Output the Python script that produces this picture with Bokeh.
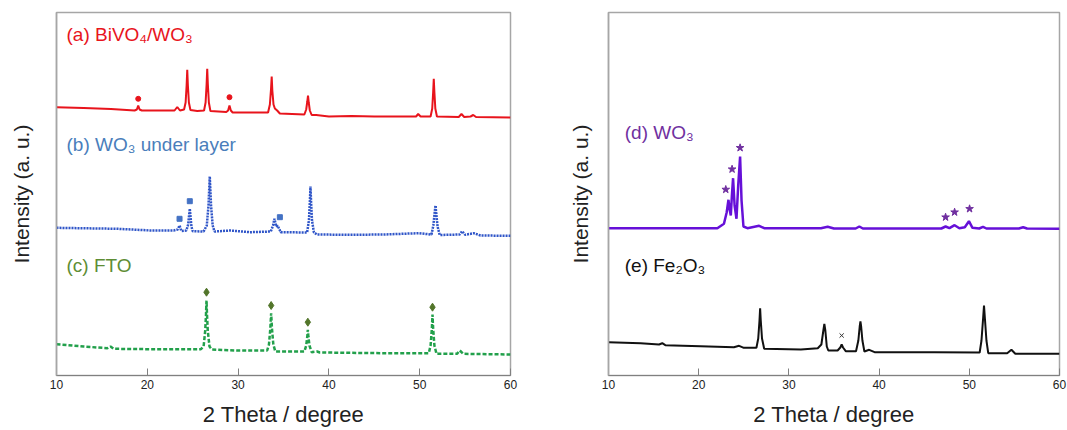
from bokeh.plotting import figure
from bokeh.models import Label, FixedTicker, Range1d
from bokeh.layouts import row
from bokeh.embed import file_html
from bokeh.resources import INLINE

# ---------------- data (2 theta in degree, intensity in arbitrary units) ----------------
TICKS = [10, 20, 30, 40, 50, 60]

# (a) BiVO4/WO3
RED_X = [10.0, 13.0, 16.0, 18.6, 18.85, 19.0, 19.15, 19.4, 21.0, 23.0, 23.3, 23.6, 24.05, 24.22, 24.33,
         24.4, 24.47, 24.58, 24.75, 25.5, 26.25, 26.42, 26.53, 26.6, 26.67, 26.78, 26.95, 28.7, 28.9,
         29.05, 29.2, 29.4, 31.0, 33.3, 33.5, 33.63, 33.7, 33.77, 33.9, 34.05, 34.3, 34.6, 37.3, 37.5,
         37.62, 37.7, 37.78, 37.9, 38.1, 38.6, 40.0, 42.5, 45.0, 49.6, 49.83, 50.1, 51.2, 51.38, 51.48,
         51.55, 51.62, 51.72, 51.9, 54.3, 54.6, 54.9, 55.6, 55.9, 56.2, 60.0]
RED_Y = [13.3, 12.5, 11.5, 10.0, 11.0, 15.0, 11.0, 10.0, 10.0, 10.0, 13.5, 10.0, 11.0, 18.0, 35.0,
         50.7, 35.0, 18.0, 10.5, 9.5, 10.0, 18.0, 36.0, 51.7, 36.0, 18.0, 9.5, 8.5, 10.0,
         15.0, 10.0, 8.0, 8.0, 8.0, 16.0, 32.0, 44.0, 30.0, 16.0, 12.0, 10.0, 7.0, 6.0, 11.0,
         19.0, 25.0, 18.0, 10.0, 5.5, 5.5, 4.0, 4.5, 4.0, 4.0, 6.5, 4.0, 4.0, 12.0, 28.0,
         41.7, 28.0, 12.0, 4.0, 3.5, 6.5, 3.5, 4.0, 5.5, 3.5, 3.0]
RED_MARK_X = [19.0, 29.05]
RED_MARK_Y = [21.7, 23.3]

# (b) WO3 under layer
BLUE_X = [10.0, 16.7, 20.4, 22.9, 23.35, 23.55, 23.75, 24.3, 24.5, 24.6, 24.68, 24.76, 24.86, 25.0,
          26.2, 26.55, 26.74, 26.82, 26.88, 26.94, 27.02, 27.2, 27.4, 29.16, 31.3, 33.6, 33.85, 34.0,
          34.2, 34.35, 34.7, 37.6, 37.8, 37.9, 37.97, 38.04, 38.14, 38.35, 38.7, 42.3, 46.05, 49.9,
          51.3, 51.5, 51.65, 51.74, 51.82, 51.97, 52.2, 54.4, 54.68, 55.0, 55.96, 56.7, 60.0]
BLUE_Y = [12.7, 11.7, 10.0, 10.0, 11.0, 15.0, 9.5, 10.0, 16.0, 25.0, 31.7, 24.0, 14.0, 9.3,
          9.0, 15.0, 35.0, 52.0, 64.0, 52.0, 35.0, 15.0, 9.0, 10.0, 8.3, 9.0, 15.0, 21.7,
          14.0, 15.0, 8.3, 8.0, 20.0, 38.0, 54.0, 38.0, 20.0, 8.0, 6.0, 5.7, 6.0, 7.3,
          6.0, 15.0, 28.0, 35.0, 27.0, 14.0, 5.5, 6.0, 9.3, 5.7, 7.3, 5.0, 4.7]
BLUE_MARK_X = [23.55, 24.68, 34.6]
BLUE_MARK_Y = [21.7, 39.3, 23.3]

# (c) FTO
GREEN_X = [10.0, 13.0, 15.6, 15.95, 16.3, 20.3, 25.9, 26.2, 26.38, 26.46, 26.52, 26.58, 26.66, 26.85,
           27.1, 29.9, 33.2, 33.4, 33.55, 33.64, 33.73, 33.88, 34.1, 37.3, 37.5, 37.62, 37.68, 37.74,
           37.86, 38.1, 38.7, 39.0, 42.3, 46.05, 51.0, 51.2, 51.34, 51.41, 51.48, 51.62, 51.85, 54.1,
           54.42, 54.8, 60.0]
GREEN_Y = [16.3, 14.0, 12.3, 14.0, 11.7, 11.3, 11.3, 14.0, 30.0, 45.0, 60.0, 45.0, 30.0, 14.0,
           11.0, 10.0, 10.0, 16.0, 32.0, 47.3, 32.0, 16.0, 9.0, 9.0, 15.0, 24.0, 30.7, 24.0,
           15.0, 8.3, 9.0, 8.0, 7.7, 7.3, 7.3, 15.0, 32.0, 46.0, 32.0, 15.0, 6.7, 6.7,
           10.0, 6.7, 6.0]
GREEN_MARK_X = [26.52, 33.64, 37.68, 51.41]
GREEN_MARK_Y = [68.3, 55.0, 38.3, 53.3]

# (d) WO3
PURPLE_X = [10.0, 22.07, 22.8, 23.1, 23.3, 23.45, 23.56, 23.68, 23.81, 23.98, 24.19, 24.38, 24.59,
            24.75, 24.96, 25.4, 26.7, 27.26, 33.55, 34.3, 35.0, 37.4, 37.81, 38.2, 46.9, 47.37, 47.8,
            48.37, 48.9, 49.5, 49.96, 50.35, 51.1, 51.52, 51.9, 55.5, 55.97, 56.4, 60.0]
PURPLE_Y = [12.3, 12.3, 16.7, 28.0, 40.7, 30.0, 25.0, 45.0, 62.3, 35.0, 21.7, 55.0, 84.0,
            40.0, 14.0, 12.3, 14.7, 12.3, 12.3, 13.7, 12.0, 12.0, 14.0, 12.0, 12.0, 14.0, 12.3,
            15.3, 12.3, 13.3, 19.3, 12.7, 12.0, 13.7, 12.0, 12.0, 13.3, 12.0, 11.7]
PURPLE_MARK_X = [23.0, 23.7, 24.59, 47.37, 48.37, 50.03]
PURPLE_MARK_Y = [51.0, 71.3, 92.7, 23.3, 28.3, 31.7]

# (e) Fe2O3
BLACK_X = [10.0, 13.56, 15.6, 15.96, 16.3, 20.2, 23.9, 24.48, 25.0, 26.4, 26.6, 26.74, 26.81, 26.88,
           27.02, 27.26, 31.33, 33.2, 33.6, 33.82, 33.93, 34.04, 34.2, 34.37, 35.4, 35.7, 35.85, 36.0,
           36.3, 37.44, 37.7, 37.85, 37.93, 38.01, 38.15, 38.37, 38.9, 39.5, 46.15, 51.15, 51.35,
           51.53, 51.63, 51.73, 51.9, 52.1, 54.2, 54.67, 55.1, 60.0]
BLACK_Y = [18.3, 17.3, 16.0, 17.3, 15.3, 14.3, 13.3, 14.7, 12.7, 12.7, 22.0, 40.0, 52.3, 40.0,
           22.0, 11.7, 11.0, 12.3, 16.0, 30.0, 36.7, 30.0, 14.0, 10.0, 10.0, 13.0, 16.0, 13.0,
           9.3, 9.3, 20.0, 34.0, 39.0, 34.0, 20.0, 9.0, 10.7, 8.3, 8.3, 8.0, 20.0,
           42.0, 55.0, 42.0, 20.0, 7.3, 7.3, 10.7, 6.7, 6.7]
BLACK_MARK_X = [35.85]
BLACK_MARK_Y = [25.0]

# vertical stacking offsets of the traces (layout)
OFF_TOP, OFF_MID, OFF_BOT = 255, 135, 15

FONT = "Liberation Sans"


def shift(vals, off):
    return [v + off for v in vals]


def make_fig(width, border_left, border_right, ylab_standoff):
    p = figure(width=width, height=430, x_range=Range1d(10, 60), y_range=Range1d(0, 363),
               output_backend="svg", toolbar_location=None,
               min_border_left=border_left, min_border_right=border_right,
               min_border_top=12, min_border_bottom=55)
    p.background_fill_color = "white"
    p.border_fill_color = "white"
    p.outline_line_color = "#a6a6a6"
    p.outline_line_width = 1.5
    p.grid.visible = False

    xa = p.xaxis[0]
    xa.ticker = FixedTicker(ticks=TICKS)
    xa.major_tick_in = 7
    xa.major_tick_out = 0
    xa.minor_tick_line_color = None
    xa.major_tick_line_color = "#808080"
    xa.axis_line_color = "#808080"
    xa.major_label_text_font = FONT
    xa.major_label_text_font_size = "12px"
    xa.major_label_text_color = "#222222"
    xa.major_label_standoff = 4
    xa.axis_label = "2 Theta / degree"
    xa.axis_label_text_font = FONT
    xa.axis_label_text_font_size = "22px"
    xa.axis_label_text_font_style = "normal"
    xa.axis_label_text_color = "#222222"
    xa.axis_label_standoff = 10

    ya = p.yaxis[0]
    ya.ticker = FixedTicker(ticks=[])
    ya.minor_tick_line_color = None
    ya.major_tick_line_color = None
    ya.axis_line_color = "#a6a6a6"
    ya.axis_line_width = 1.5
    ya.axis_label = "Intensity (a. u.)"
    ya.axis_label_text_font = FONT
    ya.axis_label_text_font_size = "21px"
    ya.axis_label_text_font_style = "normal"
    ya.axis_label_text_color = "#222222"
    ya.axis_label_standoff = ylab_standoff
    return p


def add_label(p, x, y, text, color):
    p.add_layout(Label(x=x, y=y, text=text, text_font=FONT, text_font_size="19px",
                       text_color=color, text_align="left", text_baseline="middle"))


# ---------------- left panel ----------------
p1 = make_fig(520, 56, 10, 24)
p1.line(RED_X, shift(RED_Y, OFF_TOP), line_color="#e8141c", line_width=2)
p1.scatter(RED_MARK_X, shift(RED_MARK_Y, OFF_TOP), marker="circle", size=5,
           fill_color="#e8141c", line_color="#e8141c")
p1.line(BLUE_X, shift(BLUE_Y, OFF_MID), line_color="#2f55c8", line_width=2.5, line_dash="2 1")
p1.scatter(BLUE_MARK_X, shift(BLUE_MARK_Y, OFF_MID), marker="square", size=5,
           fill_color="#4472c4", line_color="#4472c4")
p1.line(GREEN_X, shift(GREEN_Y, OFF_BOT), line_color="#22a04b", line_width=2.5, line_dash="4 2")
p1.scatter(GREEN_MARK_X, shift(GREEN_MARK_Y, OFF_BOT), marker="diamond", size=8,
           fill_color="#52752a", line_color="#52752a")
add_label(p1, 11.1, 341, "(a) BiVO₄/WO₃", "#e8141c")
add_label(p1, 11.1, 231, "(b) WO₃ under layer", "#4a7ebb")
add_label(p1, 11.1, 110, "(c) FTO", "#5e8d35")

# ---------------- right panel ----------------
p2 = make_fig(547, 88, 8, 17)
p2.line(PURPLE_X, shift(PURPLE_Y, OFF_MID), line_color="#6610d8", line_width=2.5)
p2.scatter(PURPLE_MARK_X, shift(PURPLE_MARK_Y, OFF_MID), marker="star", size=8,
           fill_color="#7030a0", line_color="#7030a0")
p2.line(BLACK_X, shift(BLACK_Y, OFF_BOT), line_color="#111111", line_width=2)
p2.scatter(BLACK_MARK_X, shift(BLACK_MARK_Y, OFF_BOT), marker="x", size=6,
           line_color="#333333", line_width=1)
add_label(p2, 11.8, 243, "(d) WO₃", "#7030a0")
add_label(p2, 11.8, 110, "(e) Fe₂O₃", "#111111")

layout = row(p1, p2)
open("out.html", "w").write(file_html(layout, INLINE))
